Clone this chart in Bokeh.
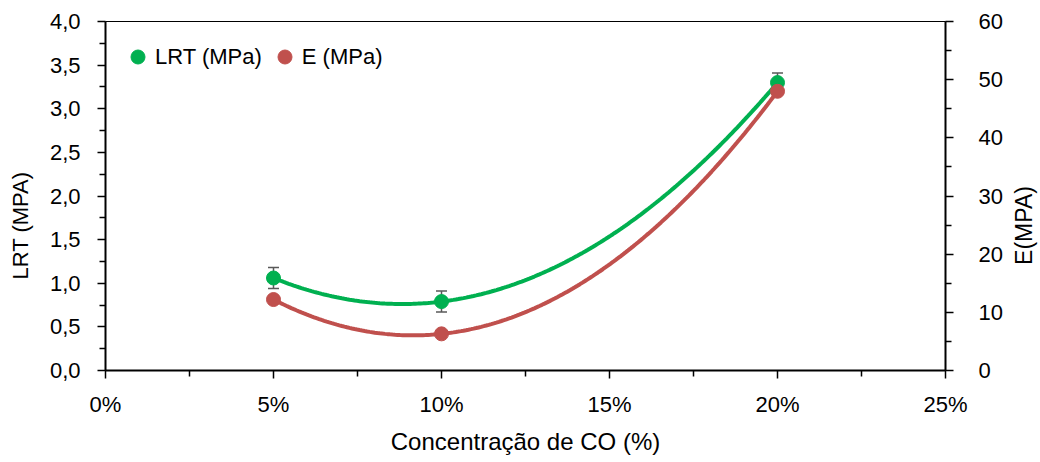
import math
import numpy as np
from bokeh.plotting import figure
from bokeh.models import (Range1d, LinearAxis, FixedTicker, CustomJSTickFormatter,
                          NumeralTickFormatter, ColumnDataSource, Whisker, TeeHead,
                          Legend, LegendItem, Label)
from bokeh.embed import file_html
from bokeh.resources import INLINE

# ---- data ----
conc = [0.05, 0.10, 0.20]            # Concentração de CO (fraction)
lrt = [1.06, 0.79, 3.30]             # LRT (MPa)
lrt_err = [0.12, 0.12, 0.11]         # error of LRT
e_mod = [12.2, 6.3, 48.0]            # E (MPa)

x_ticks = [0.0, 0.05, 0.10, 0.15, 0.20, 0.25]
x_minor = [0.025, 0.075, 0.125, 0.175, 0.225]
yl_ticks = [0.0, 0.5, 1.0, 1.5, 2.0, 2.5, 3.0, 3.5, 4.0]
yl_minor = [0.25, 0.75, 1.25, 1.75, 2.25, 2.75, 3.25, 3.75]
yr_ticks = [0, 10, 20, 30, 40, 50, 60]
yr_minor = [5, 15, 25, 35, 45, 55]

GREEN = "#00B050"
RED = "#C0504D"
FONT = "Liberation Sans"

p = figure(width=1040, height=462, output_backend="svg", toolbar_location=None,
           x_range=Range1d(0, 0.25), y_range=Range1d(0, 4.0),
           min_border_left=105, min_border_right=95, min_border_top=21, min_border_bottom=92)
p.extra_y_ranges = {"e": Range1d(0, 60)}
p.xgrid.visible = False
p.ygrid.visible = False
p.outline_line_color = "black"
p.outline_line_width = 1
p.background_fill_color = "white"
p.border_fill_color = "white"

# polynomial (order 2) trendlines over the data range
xs = np.linspace(min(conc), max(conc), 200)
lrt_fit = np.polyval(np.polyfit(conc, lrt, 2), xs)
e_fit = np.polyval(np.polyfit(conc, e_mod, 2), xs)

# error bars
err_src = ColumnDataSource(dict(x=conc,
                                upper=[v + d for v, d in zip(lrt, lrt_err)],
                                lower=[v - d for v, d in zip(lrt, lrt_err)]))
wh = Whisker(base="x", upper="upper", lower="lower", source=err_src,
             line_color="#595959", line_width=1.5, level="underlay",
             upper_head=TeeHead(size=11, line_color="#595959", line_width=1.5),
             lower_head=TeeHead(size=11, line_color="#595959", line_width=1.5))
p.add_layout(wh)

p.line(xs, lrt_fit, line_color=GREEN, line_width=4)
r_lrt = p.scatter(conc, lrt, size=14, fill_color=GREEN, line_color=GREEN)
p.line(xs, e_fit, line_color=RED, line_width=4, y_range_name="e")
r_e = p.scatter(conc, e_mod, size=14, fill_color=RED, line_color=RED, y_range_name="e")

def style_axis(ax):
    ax.axis_line_width = 2
    ax.axis_line_color = "black"
    ax.major_tick_line_color = "black"
    ax.minor_tick_line_color = "black"
    ax.major_tick_line_width = 1.5
    ax.minor_tick_line_width = 1.5
    ax.major_tick_in = 0
    ax.major_tick_out = 8
    ax.minor_tick_in = 0
    ax.minor_tick_out = 6
    ax.major_label_text_font = FONT
    ax.major_label_text_font_size = "22px"
    ax.major_label_text_color = "black"
    ax.axis_label_text_font = FONT
    ax.axis_label_text_font_size = "22px"
    ax.axis_label_text_font_style = "normal"
    ax.axis_label_text_color = "black"
    ax.major_label_standoff = 17

# x axis
xa = p.xaxis[0]
xa.ticker = FixedTicker(ticks=x_ticks, minor_ticks=x_minor)
xa.formatter = NumeralTickFormatter(format="0%")
xa.axis_label = "Concentração de CO (%)"
style_axis(xa)
xa.axis_label_text_font_size = "24px"
xa.major_label_standoff = 13
xa.axis_label_standoff = 8

# left y axis
ya = p.yaxis[0]
ya.ticker = FixedTicker(ticks=yl_ticks, minor_ticks=yl_minor)
ya.formatter = CustomJSTickFormatter(code="return tick.toFixed(1).replace('.', ',');")
style_axis(ya)

# right y axis
yr = LinearAxis(y_range_name="e")
yr.ticker = FixedTicker(ticks=yr_ticks, minor_ticks=yr_minor)
style_axis(yr)
yr.major_label_standoff = 25
p.add_layout(yr, "right")

# axis titles (both read bottom-to-top), placed in the side panels
p.add_layout(Label(x=-1, y=145, x_units="screen", y_units="screen", text="LRT (MPA)",
                   angle=math.pi / 2, text_align="center", text_baseline="middle",
                   text_font=FONT, text_font_size="22px", text_color="black"), "left")
p.add_layout(Label(x=18, y=145, x_units="screen", y_units="screen", text="E(MPA)",
                   angle=math.pi / 2, text_align="center", text_baseline="middle",
                   text_font=FONT, text_font_size="23px", text_color="black"), "right")

legend = Legend(items=[LegendItem(label="LRT (MPa)", renderers=[r_lrt]),
                       LegendItem(label="E (MPa)", renderers=[r_e])],
                orientation="horizontal", location=(15, 296),
                glyph_width=35, glyph_height=35, label_standoff=0, spacing=5,
                padding=0, margin=0, border_line_color=None,
                background_fill_alpha=0,
                label_text_font=FONT, label_text_font_size="22px",
                label_text_color="black")
p.add_layout(legend)

open("out.html", "w").write(file_html(p, INLINE))
